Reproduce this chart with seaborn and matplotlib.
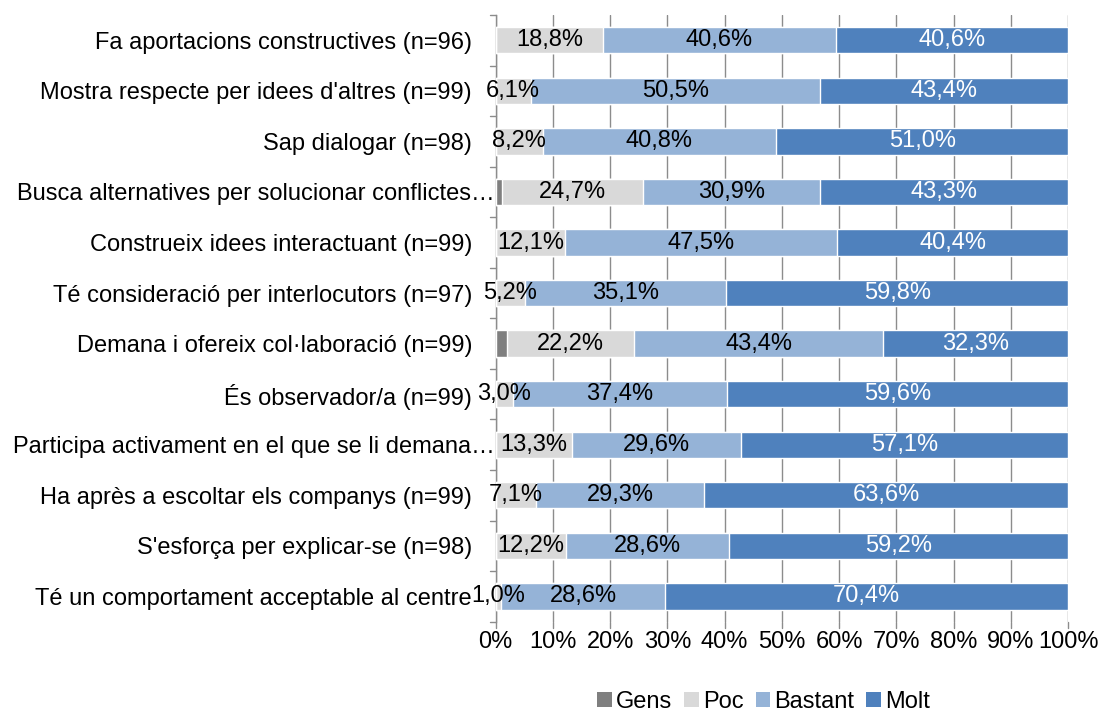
"""
Barres apilades horitzontals: valoració de competències (Gens / Poc / Bastant / Molt)
"""

import numpy as np
import pandas as pd
import matplotlib
matplotlib.use('Agg')
import matplotlib.pyplot as plt
import matplotlib.transforms as mtransforms
import seaborn as sns
from matplotlib.patches import Patch

# Dades
categories = [
    "Fa aportacions constructives (n=96)",
    "Mostra respecte per idees d'altres (n=99)",
    "Sap dialogar (n=98)",
    "Busca alternatives per solucionar conflictes…",
    "Construeix idees interactuant (n=99)",
    "Té consideració per interlocutors (n=97)",
    "Demana i ofereix col·laboració (n=99)",
    "És observador/a (n=99)",
    "Participa activament en el que se li demana…",
    "Ha après a escoltar els companys (n=99)",
    "S'esforça per explicar-se (n=98)",
    "Té un comportament acceptable al centre",
]
gens = [0.0, 0.0, 0.0, 1.1, 0.0, 0.0, 2.0, 0.0, 0.0, 0.0, 0.0, 0.0]
poc = [18.8, 6.1, 8.2, 24.7, 12.1, 5.2, 22.2, 3.0, 13.3, 7.1, 12.2, 1.0]
bastant = [40.6, 50.5, 40.8, 30.9, 47.5, 35.1, 43.4, 37.4, 29.6, 29.3, 28.6, 28.6]
molt = [40.6, 43.4, 51.0, 43.3, 40.4, 59.8, 32.3, 59.6, 57.1, 63.6, 59.2, 70.4]

series_names = ['Gens', 'Poc', 'Bastant', 'Molt']
colors = ['#7f7f7f', '#d9d9d9', '#95b3d7', '#4f81bd']
label_colors = [None, 'black', 'black', 'white']
FS = 17

df = pd.DataFrame({'cat': categories, 'Gens': gens, 'Poc': poc,
                   'Bastant': bastant, 'Molt': molt})
# Cumul per apilar, normalitzat a 100% (com Excel)
total = df[series_names].sum(axis=1)
cum = df[series_names].cumsum(axis=1).div(total, axis=0) * 100

sns.set_theme(style='white')
plt.rcParams['font.family'] = ['Liberation Sans', 'DejaVu Sans']
plt.rcParams['text.color'] = 'black'
plt.rcParams['xtick.color'] = 'black'
plt.rcParams['ytick.color'] = 'black'

fig = plt.figure(figsize=(10.99, 7.13), dpi=100)
ax = fig.add_axes([0.451, 0.128, 0.521, 0.851])

# Dibuix: de l'acumulat més gran al més petit
for name, col in reversed(list(zip(series_names, colors))):
    sns.barplot(x=cum[name], y=df['cat'], color=col, orient='h',
                width=0.52, saturation=1, ax=ax, zorder=3)

# Etiquetes de valor
for i, row in df.iterrows():
    left = 0.0
    for name, lc in zip(series_names, label_colors):
        v = row[name] / total[i] * 100
        if lc is not None and row[name] > 0:
            ax.text(left + v / 2, i, f"{row[name]:.1f}%".replace('.', ','),
                    ha='center', va='center', color=lc, fontsize=FS, zorder=5)
        left += v

ax.set_xlim(0, 100)
ax.set_ylim(len(categories) - 0.5, -0.5)
ax.set_xticks(np.arange(0, 101, 10))
ax.set_xticklabels([f"{t}%" for t in range(0, 101, 10)], fontsize=FS)
ax.tick_params(axis='y', labelsize=FS, length=0, pad=17)
ax.tick_params(axis='x', length=0, pad=7)
ax.set_xlabel('')
ax.set_ylabel('')
ax.grid(axis='x', color='#8c8c8c', linewidth=1, zorder=0)
ax.set_axisbelow(True)

# Les etiquetes truncades (…) arriben fins a l'eix
for lab in ax.get_yticklabels():
    if lab.get_text().endswith('…'):
        lab.set_transform(lab.get_transform() +
                          mtransforms.ScaledTranslation(23 / 100, 0, fig.dpi_scale_trans))

for s in ['top', 'right', 'bottom']:
    ax.spines[s].set_visible(False)
ax.spines['left'].set_color('#8c8c8c')
ax.spines['left'].set_linewidth(1)

# Marques de l'eix Y entre categories
for b in np.arange(-0.5, len(categories) + 0.5, 1):
    ax.plot([-0.9, 0], [b, b], color='#8c8c8c', lw=1, clip_on=False, zorder=4)
# Marques de l'eix X
for t in range(0, 101, 10):
    ax.plot([t, t], [len(categories) - 0.5, len(categories) - 0.5 + 0.12],
            color='#8c8c8c', lw=1, clip_on=False, zorder=4)

handles = [Patch(facecolor=c, edgecolor='none', label=n)
           for n, c in zip(series_names, colors)]
fig.legend(handles=handles, loc='lower center', bbox_to_anchor=(0.695, -0.03),
           ncol=4, frameon=False, fontsize=FS, handlelength=0.6,
           handleheight=0.6, handletextpad=0.2, columnspacing=0.5)

plt.savefig('out.png', dpi=100)
plt.close()
